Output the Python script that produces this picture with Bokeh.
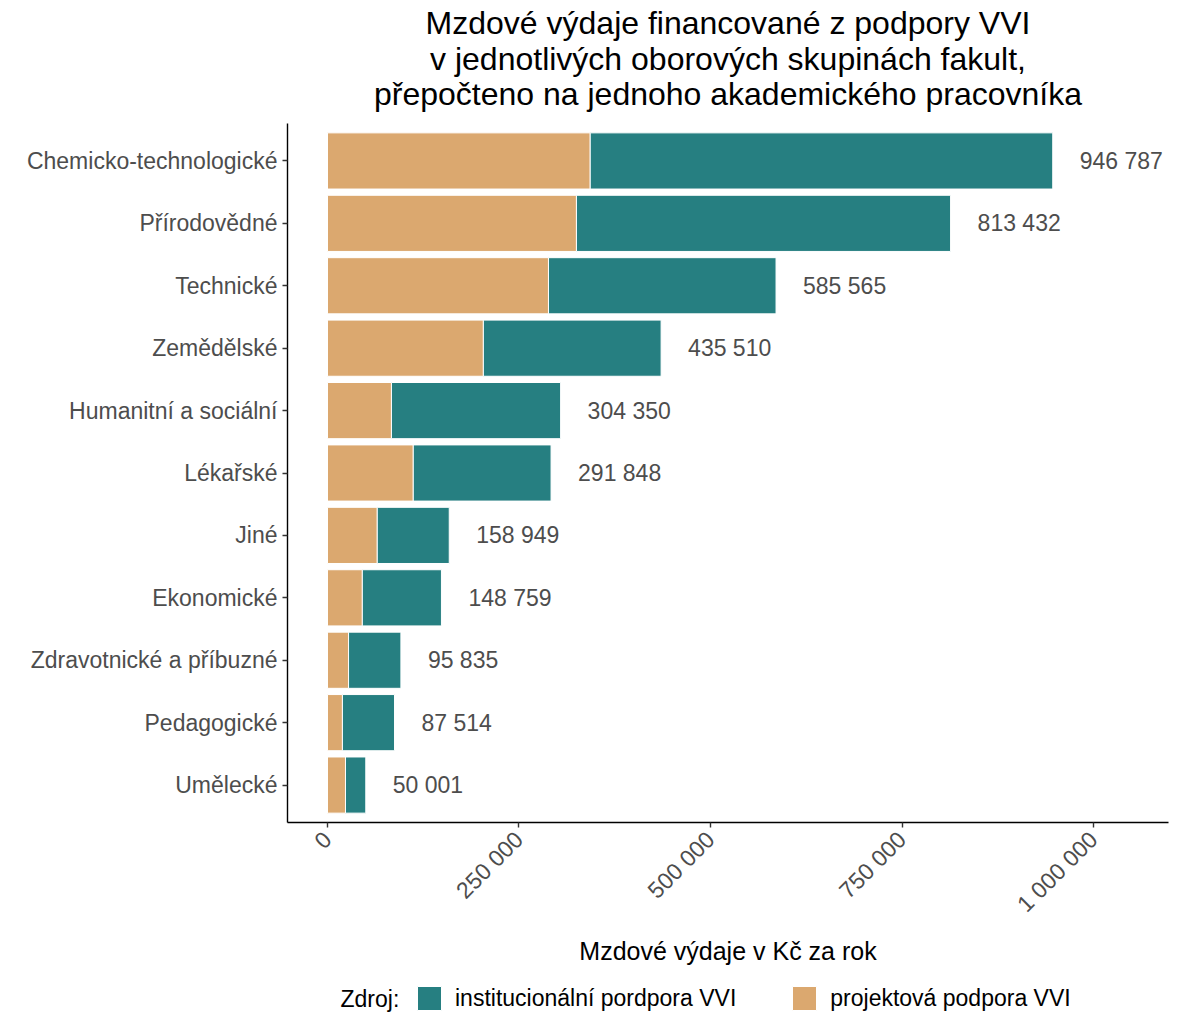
import math
from bokeh.plotting import figure
from bokeh.layouts import column
from bokeh.models import (ColumnDataSource, FactorRange, Range1d, FixedTicker,
                          Legend, LegendItem, Label)
from bokeh.core.properties import value
from bokeh.embed import file_html
from bokeh.resources import INLINE

# ---- data (top to bottom as in chart) ----
categories = ["Chemicko-technologické", "Přírodovědné", "Technické", "Zemědělské",
              "Humanitní a sociální", "Lékařské", "Jiné", "Ekonomické",
              "Zdravotnické a příbuzné", "Pedagogické", "Umělecké"]
totals = [946787, 813432, 585565, 435510, 304350, 291848, 158949, 148759,
          95835, 87514, 50001]
projektova = [343000, 325000, 288500, 203500, 83500, 112000, 65000, 45500,
              27500, 19500, 23500]
institucionalni = [t - p for t, p in zip(totals, projektova)]
tick_values = [0, 250000, 500000, 750000, 1000000]
tick_labels = ["0", "250 000", "500 000", "750 000", "1 000 000"]
series_names = ["institucionální pordpora VVI", "projektová podpora VVI"]
colors = ["#267F81", "#DBA86F"]
title_lines = ["Mzdové výdaje financované z podpory VVI",
               "v jednotlivých oborových skupinách fakult,",
               "přepočteno na jednoho akademického pracovníka"]
x_title = "Mzdové výdaje v Kč za rok"
legend_title = "Zdroj:"

FONT = "Liberation Sans"
W = 1188
BL, BR = 287, W - 1168
FRAME_W = W - BL - BR

value_labels = ["{:,}".format(t).replace(",", " ") for t in totals]

src = ColumnDataSource(dict(
    cat=categories,
    zero=[0] * len(categories),
    proj=projektova,
    inst=institucionalni,
    total=totals,
    lab=value_labels,
))


def strip(height):
    f = figure(width=W, height=height, x_range=Range1d(0, 1), y_range=Range1d(0, 1),
               x_axis_type=None, y_axis_type=None, output_backend="svg",
               toolbar_location=None, min_border_left=BL, min_border_right=BR,
               min_border_top=0, min_border_bottom=0)
    f.outline_line_color = None
    f.xgrid.visible = False
    f.ygrid.visible = False
    return f


# ---- title strip ----
TH = 123
tfig = strip(TH)
for line, mid in zip(title_lines, [100.2, 64.8, 29.5]):
    tfig.add_layout(Label(x=FRAME_W / 2, y=mid, x_units="screen", y_units="screen",
                          text=line, text_font=FONT, text_font_size="32px",
                          text_color="black", text_align="center",
                          text_baseline="middle"))

# ---- main chart ----
p = figure(width=W, height=852,
           y_range=FactorRange(factors=list(reversed(categories)),
                               range_padding=0.1, range_padding_units="absolute"),
           x_range=Range1d(-52200, 1097900),
           output_backend="svg", toolbar_location=None,
           min_border_left=BL, min_border_right=BR,
           min_border_top=0, min_border_bottom=153)
p.title.visible = False

r_proj = p.hbar(y="cat", left="zero", right="proj", height=0.9, source=src,
                fill_color=colors[1], line_color="white", line_width=1)
r_inst = p.hbar(y="cat", left="proj", right="total", height=0.9, source=src,
                fill_color=colors[0], line_color="white", line_width=1)

p.text(x="total", y="cat", text="lab", source=src, x_offset=27,
       text_baseline="middle", text_align="left", text_font_size="23px",
       text_color="#4D4D4D", text_font=value(FONT))

p.xgrid.visible = False
p.ygrid.visible = False
p.outline_line_color = None

for ax in (p.xaxis[0], p.yaxis[0]):
    ax.axis_line_color = "black"
    ax.axis_line_width = 1.4
    ax.major_tick_line_color = "#333333"
    ax.major_tick_line_width = 1.4
    ax.major_tick_out = 5
    ax.major_tick_in = 0
    ax.minor_tick_line_color = None
    ax.major_label_text_font = FONT
    ax.major_label_text_font_size = "23px"
    ax.major_label_text_color = "#4D4D4D"

p.yaxis.major_label_standoff = 5

p.xaxis.ticker = FixedTicker(ticks=tick_values)
p.xaxis.major_label_overrides = {v: l for v, l in zip(tick_values, tick_labels)}
p.xaxis.major_label_orientation = math.pi / 4
p.xaxis.major_label_standoff = 8
p.xaxis.axis_label = x_title
p.xaxis.axis_label_text_font = FONT
p.xaxis.axis_label_text_font_size = "25px"
p.xaxis.axis_label_text_font_style = "normal"
p.xaxis.axis_label_text_color = "black"
p.xaxis.axis_label_standoff = 8

# ---- legend strip ----
LH = 45
leg = strip(LH)
nan = float("nan")
k_inst = leg.quad(left=[nan], right=[nan], top=[nan], bottom=[nan],
                  fill_color=colors[0], line_color="white", line_width=1)
k_proj = leg.quad(left=[nan], right=[nan], top=[nan], bottom=[nan],
                  fill_color=colors[1], line_color="white", line_width=1)
legend = Legend(items=[LegendItem(label=series_names[0], renderers=[k_inst]),
                       LegendItem(label=series_names[1], renderers=[k_proj])],
                orientation="horizontal", location=(414 - BL, 7),
                label_text_font=FONT, label_text_font_size="23px",
                label_text_color="black",
                glyph_width=30, glyph_height=30, label_standoff=11,
                label_height=30, spacing=53, padding=0, margin=0,
                border_line_color=None, background_fill_alpha=0)
leg.add_layout(legend, "center")
leg.add_layout(Label(x=340 - BL, y=22, x_units="screen", y_units="screen",
                     text=legend_title, text_font=FONT, text_font_size="23px",
                     text_color="black", text_baseline="middle", text_align="left"))

open("out.html", "w").write(file_html(column(tfig, p, leg, spacing=0), INLINE))
